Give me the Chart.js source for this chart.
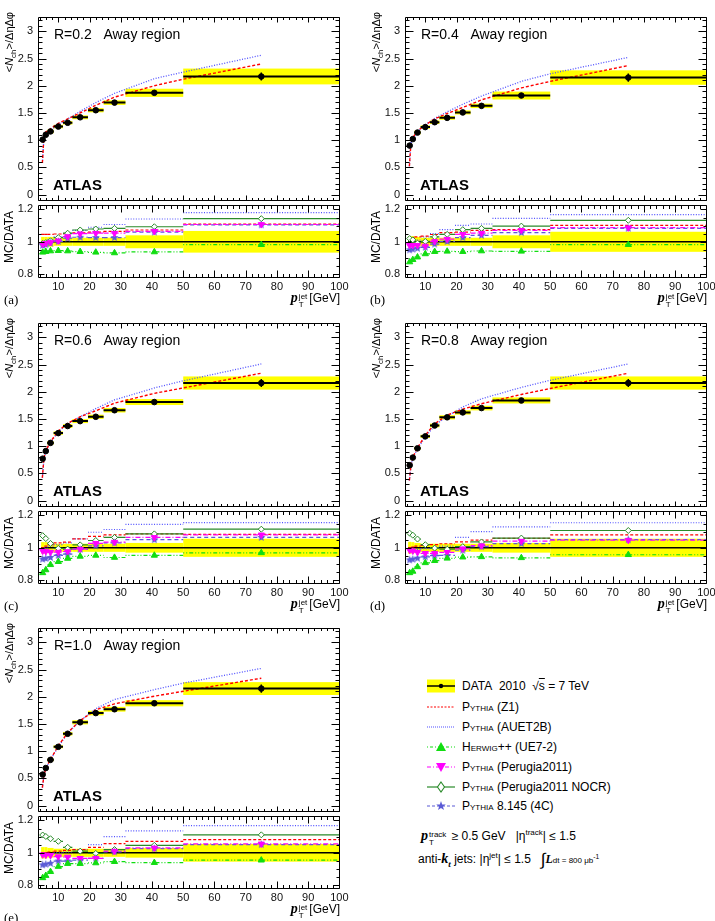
<!DOCTYPE html>
<html><head><meta charset="utf-8">
<title>Away region</title>
<script src="https://cdn.jsdelivr.net/npm/chart.js@4.4.1/dist/chart.umd.min.js"></script>
<style>
  html,body{margin:0;padding:0;background:#fff;}
  body{position:relative;width:715px;height:921px;overflow:hidden;font-family:"Liberation Sans",Arial,Helvetica,sans-serif;color:#000;}
  canvas{position:absolute;}
  .t{position:absolute;white-space:nowrap;line-height:1;}
  .rl{font-size:14px;}
  .atl{font-size:15px;font-weight:bold;}
  .yt{font-size:11px;transform:rotate(-90deg);transform-origin:left top;width:100px;text-align:right;line-height:12px;}
  .rt{font-size:12px;transform:rotate(-90deg);transform-origin:left top;width:80px;text-align:center;line-height:12px;}
  .xt{font-size:12px;width:90px;text-align:right;}
  .pp{font-family:"Liberation Serif","DejaVu Serif",serif;font-style:italic;font-weight:bold;font-size:14px;}
  .ss{display:inline-block;vertical-align:-5px;font-size:8px;line-height:8px;margin:0 2px 0 1px;text-align:left;}
  .ss span{display:block;}
  .pl{font-family:"Liberation Serif","DejaVu Serif",serif;font-size:13px;}
  .sc{font-variant:small-caps;}
  .lt{font-size:12px;}
  .small{font-size:8px;}
  svg{position:absolute;overflow:visible;}
</style>
</head>
<body>
<script>
/* ── data ── */
const BIN_EDGES = [4.5, 5.5, 6.5, 8.5, 11.5, 14.5, 19.5, 24.5, 31.5, 50, 100];
const BIN_CENTERS = [5, 6, 7.5, 10, 13, 17, 22, 28, 40.75, 75];
const CURVE_X = [4.9, 5.4, 6, 7.5, 10, 13, 17, 22, 28, 40.75, 50, 75];
const X_TICKS = [10, 20, 30, 40, 50, 60, 70, 80, 90, 100];
const Y_TICKS_MAIN = [0, 0.5, 1, 1.5, 2, 2.5, 3];
const Y_TICKS_RATIO = [0.8, 1, 1.2];
const PANEL_TAGS = ['(a)', '(b)', '(c)', '(d)', '(e)'];
const RADII = ['R=0.2', 'R=0.4', 'R=0.6', 'R=0.8', 'R=1.0'];

const DATA = [
  [1.01, 1.10, 1.16, 1.25, 1.32, 1.42, 1.55, 1.69, 1.87, 2.17],
  [0.90, 1.02, 1.14, 1.24, 1.33, 1.41, 1.51, 1.63, 1.82, 2.15],
  [0.77, 0.91, 1.06, 1.24, 1.37, 1.46, 1.54, 1.66, 1.81, 2.16],
  [0.65, 0.79, 0.96, 1.18, 1.38, 1.53, 1.62, 1.70, 1.84, 2.16],
  [0.57, 0.69, 0.84, 1.08, 1.32, 1.53, 1.70, 1.77, 1.88, 2.15]
];
const STAT_ERR = [0.008, 0.008, 0.008, 0.008, 0.01, 0.01, 0.012, 0.015, 0.02, 0.075];
const SYST = [
  [0.03, 0.03, 0.03, 0.025, 0.025, 0.025, 0.025, 0.025, 0.04, 0.067],
  [0.035, 0.035, 0.03, 0.025, 0.025, 0.025, 0.025, 0.025, 0.04, 0.062],
  [0.035, 0.035, 0.03, 0.025, 0.025, 0.025, 0.025, 0.025, 0.03, 0.056],
  [0.037, 0.035, 0.03, 0.025, 0.025, 0.025, 0.025, 0.025, 0.03, 0.056],
  [0.035, 0.035, 0.03, 0.025, 0.025, 0.025, 0.025, 0.025, 0.03, 0.055]
];
const CURVE_Z1 = [
  [0.58, 1.06, 1.15, 1.21, 1.31, 1.39, 1.50, 1.64, 1.79, 2.00, 2.12, 2.40],
  [0.52, 0.95, 1.05, 1.17, 1.28, 1.39, 1.49, 1.60, 1.74, 1.96, 2.08, 2.37],
  [0.42, 0.78, 0.92, 1.08, 1.28, 1.42, 1.54, 1.65, 1.79, 1.97, 2.07, 2.34],
  [0.37, 0.64, 0.80, 0.97, 1.20, 1.41, 1.57, 1.68, 1.78, 1.95, 2.06, 2.34],
  [0.33, 0.55, 0.69, 0.85, 1.10, 1.34, 1.56, 1.76, 1.87, 2.01, 2.10, 2.34]
];
const CURVE_AU = [
  [0.58, 1.06, 1.11, 1.18, 1.29, 1.39, 1.53, 1.69, 1.86, 2.13, 2.25, 2.56],
  [0.52, 0.95, 1.02, 1.15, 1.28, 1.40, 1.52, 1.66, 1.81, 2.08, 2.22, 2.52],
  [0.42, 0.76, 0.91, 1.07, 1.26, 1.41, 1.54, 1.69, 1.85, 2.07, 2.20, 2.51],
  [0.37, 0.63, 0.78, 0.95, 1.17, 1.38, 1.55, 1.72, 1.87, 2.08, 2.21, 2.51],
  [0.33, 0.55, 0.68, 0.84, 1.08, 1.33, 1.56, 1.78, 1.95, 2.13, 2.25, 2.52]
];
const RATIO_Z1 = [
  [1.046, 1.046, 1.046, 1.048, 1.05, 1.055, 1.06, 1.065, 1.073, 1.109],
  [1.02, 1.026, 1.03, 1.035, 1.045, 1.057, 1.06, 1.07, 1.075, 1.101],
  [1.0, 1.01, 1.02, 1.03, 1.035, 1.055, 1.07, 1.08, 1.086, 1.083],
  [1.0, 1.005, 1.01, 1.015, 1.02, 1.025, 1.036, 1.047, 1.058, 1.08],
  [1.0, 1.0, 1.005, 1.01, 1.015, 1.02, 1.034, 1.057, 1.071, 1.081]
];
const RATIO_AU = [
  [1.0, 1.005, 1.015, 1.03, 1.05, 1.07, 1.09, 1.107, 1.141, 1.18],
  [0.99, 1.0, 1.01, 1.03, 1.05, 1.075, 1.101, 1.11, 1.145, 1.168],
  [0.99, 1.0, 1.01, 1.02, 1.03, 1.055, 1.096, 1.113, 1.145, 1.156],
  [0.98, 0.985, 0.99, 0.995, 1.0, 1.01, 1.064, 1.10, 1.129, 1.155],
  [0.99, 0.99, 0.995, 1.0, 1.005, 1.02, 1.05, 1.10, 1.135, 1.168]
];
const RATIO_HW = [
  [0.935, 0.939, 0.943, 0.945, 0.943, 0.939, 0.935, 0.931, 0.937, 0.982],
  [0.875, 0.889, 0.905, 0.925, 0.939, 0.941, 0.939, 0.943, 0.941, 0.982],
  [0.845, 0.863, 0.895, 0.914, 0.934, 0.947, 0.953, 0.94, 0.953, 0.969],
  [0.845, 0.854, 0.882, 0.907, 0.92, 0.935, 0.942, 0.944, 0.938, 0.957],
  [0.845, 0.859, 0.883, 0.915, 0.933, 0.933, 0.937, 0.945, 0.939, 0.954]
];
const RATIO_P11 = [
  [0.985, 0.99, 0.996, 1.006, 1.032, 1.05, 1.053, 1.053, 1.065, 1.107],
  [0.978, 0.978, 0.978, 0.974, 1.002, 1.016, 1.046, 1.053, 1.071, 1.087],
  [0.98, 0.977, 0.973, 0.973, 0.977, 0.992, 1.027, 1.035, 1.064, 1.08],
  [0.985, 0.981, 0.972, 0.966, 0.966, 0.972, 0.994, 1.013, 1.041, 1.047],
  [0.988, 0.986, 0.984, 0.976, 0.974, 0.966, 0.966, 1.01, 1.03, 1.055]
];
const RATIO_NOCR = [
  [0.99, 0.995, 1.006, 1.026, 1.053, 1.073, 1.079, 1.083, 1.093, 1.143],
  [1.02, 1.012, 0.992, 1.002, 1.03, 1.046, 1.075, 1.083, 1.097, 1.133],
  [1.075, 1.057, 1.027, 0.996, 0.992, 1.018, 1.045, 1.064, 1.086, 1.115],
  [1.09, 1.078, 1.054, 1.019, 0.998, 0.991, 1.007, 1.036, 1.06, 1.107],
  [1.11, 1.101, 1.087, 1.071, 1.034, 1.01, 0.996, 1.02, 1.046, 1.111]
];
const RATIO_4C = [
  [0.978, 0.982, 0.992, 1.002, 1.022, 1.028, 1.026, 1.026, 1.06, 1.105],
  [0.95, 0.954, 0.96, 0.966, 0.986, 1.002, 1.026, 1.04, 1.057, 1.083],
  [0.93, 0.934, 0.94, 0.953, 0.961, 0.99, 1.012, 1.03, 1.05, 1.064],
  [0.925, 0.929, 0.936, 0.944, 0.951, 0.953, 0.985, 1.007, 1.026, 1.05],
  [0.925, 0.929, 0.935, 0.949, 0.949, 0.954, 0.966, 1.006, 1.026, 1.051]
];

/* ── layout / style ── */
const FONT = '"Liberation Sans", Arial, sans-serif';
const X_MIN = 3.5, X_MAX = 100.2;
const Y_MAIN = [-0.125, 3.27], Y_RATIO = [0.776, 1.23];
const FRAMES = [{L: 38, T: 15}, {L: 405, T: 15}, {L: 38, T: 321}, {L: 405, T: 321}, {L: 38, T: 626}];
const W = 302, HM = 188, HR = 75, AXW = 40, PAD = 12, XAX = 24;

const C = {
  yellow: '#ffff00', z1: '#ff0000', au: '#5050ff', hw: '#11dd11',
  p11: '#ff00ff', nocr: '#2a8a2a', c4: '#5b5bd6'
};

function starImage(color, r) {
  const c = document.createElement('canvas');
  const s = Math.ceil(r * 2) + 2;
  c.width = c.height = s;
  const g = c.getContext('2d');
  g.fillStyle = color;
  g.beginPath();
  for (let i = 0; i < 10; i++) {
    const a = -Math.PI / 2 + i * Math.PI / 5, rr = i % 2 ? r * 0.45 : r;
    g.lineTo(s / 2 + rr * Math.cos(a), s / 2 + rr * Math.sin(a));
  }
  g.closePath(); g.fill();
  return c;
}
const STAR = starImage(C.c4, 4.2);

function addCanvas(left, top, w, h) {
  const c = document.createElement('canvas');
  c.width = w; c.height = h;
  c.style.left = left + 'px'; c.style.top = top + 'px';
  c.style.width = w + 'px'; c.style.height = h + 'px';
  document.body.appendChild(c);
  return c;
}

function addText(html, cls, left, top, extra) {
  const d = document.createElement('div');
  d.className = 't ' + cls;
  d.style.left = left + 'px'; d.style.top = top + 'px';
  if (extra) Object.assign(d.style, extra);
  d.innerHTML = html;
  document.body.appendChild(d);
  return d;
}

// histogram-like horizontal segments, one per bin
function steps(vals) {
  const pts = [];
  vals.forEach((v, i) => {
    pts.push({x: BIN_EDGES[i], y: v}, {x: BIN_EDGES[i + 1], y: v}, {x: BIN_EDGES[i + 1], y: null});
  });
  return pts;
}
function errBars(vals, errs) {
  const pts = [];
  vals.forEach((v, i) => {
    pts.push({x: BIN_CENTERS[i], y: v - errs[i]}, {x: BIN_CENTERS[i], y: v + errs[i]}, {x: BIN_CENTERS[i], y: null});
  });
  return pts;
}
function points(vals) {
  return vals.map((v, i) => ({x: BIN_CENTERS[i], y: v}));
}

function lineDs(data, color, dash, width, order) {
  return {data, borderColor: color, borderDash: dash, borderWidth: width, pointRadius: 0,
          fill: false, tension: 0, spanGaps: false, order};
}
function markerDs(data, style, color, fillColor, radius, rotation) {
  return {data, showLine: false, pointStyle: style, pointRadius: radius, pointRotation: rotation || 0,
          pointBackgroundColor: fillColor, pointBorderColor: color, pointBorderWidth: 1, order: 0};
}

function xScale(show) {
  const s = {
    type: 'linear', min: X_MIN, max: X_MAX, display: show,
    grid: {display: false, drawTicks: false}, border: {display: false},
    ticks: {display: show, padding: 2, maxRotation: 0, autoSkip: false, color: '#111',
            font: {family: FONT, size: 11}},
    afterBuildTicks: sc => { sc.ticks = X_TICKS.map(v => ({value: v})); }
  };
  if (show) s.afterFit = sc => { sc.height = XAX; };
  return s;
}
function yScale(range, ticks) {
  return {
    type: 'linear', min: range[0], max: range[1],
    grid: {display: false, drawTicks: false}, border: {display: false},
    ticks: {padding: 5, color: '#111', font: {family: FONT, size: 11}, callback: v => String(v)},
    afterBuildTicks: sc => { sc.ticks = ticks.map(v => ({value: v})); },
    afterFit: sc => { sc.width = AXW; }
  };
}

// yellow systematic boxes drawn through the chart's scales
function bandPlugin(lo, hi) {
  return {
    id: 'band',
    beforeDatasetsDraw(chart) {
      const {ctx, scales: {x, y}, chartArea: a} = chart;
      ctx.save();
      ctx.beginPath(); ctx.rect(a.left, a.top, a.right - a.left, a.bottom - a.top); ctx.clip();
      ctx.fillStyle = C.yellow;
      lo.forEach((l, i) => {
        const x0 = x.getPixelForValue(BIN_EDGES[i]), x1 = x.getPixelForValue(BIN_EDGES[i + 1]);
        const y0 = y.getPixelForValue(hi[i]), y1 = y.getPixelForValue(l);
        ctx.fillRect(x0, y0, x1 - x0, y1 - y0);
      });
      ctx.restore();
    }
  };
}

// ROOT-like frame with inward ticks on all four sides
function framePlugin(xMinor, xMajor, yMinor, yMajor, lenX, lenY) {
  return {
    id: 'frame',
    afterDatasetsDraw(chart) {
      const {ctx, chartArea: a, scales: {x, y}} = chart;
      const l = Math.round(a.left) + 0.5, r = Math.round(a.right) - 0.5;
      const t = Math.round(a.top) + 0.5, b = Math.round(a.bottom) - 0.5;
      ctx.save();
      ctx.strokeStyle = '#000'; ctx.lineWidth = 1;
      ctx.beginPath();
      ctx.rect(l, t, r - l, b - t);
      for (let k = Math.ceil(x.min / xMinor); k * xMinor <= x.max + 1e-9; k++) {
        const v = k * xMinor;
        const major = Math.abs(v / xMajor - Math.round(v / xMajor)) < 1e-6;
        const len = major ? lenX : lenX / 2;
        const px = Math.round(x.getPixelForValue(v)) + 0.5;
        ctx.moveTo(px, b); ctx.lineTo(px, b - len);
        ctx.moveTo(px, t); ctx.lineTo(px, t + len);
      }
      for (let k = Math.ceil(y.min / yMinor - 1e-9); k * yMinor <= y.max + 1e-9; k++) {
        const v = k * yMinor;
        const major = Math.abs(v / yMajor - Math.round(v / yMajor)) < 1e-6;
        const len = major ? lenY : lenY / 2;
        const py = Math.round(y.getPixelForValue(v)) + 0.5;
        ctx.moveTo(l, py); ctx.lineTo(l + len, py);
        ctx.moveTo(r, py); ctx.lineTo(r - len, py);
      }
      ctx.stroke();
      ctx.restore();
    }
  };
}

const BASE = {
  type: 'line',
  options: {
    responsive: false, animation: false, devicePixelRatio: 1, events: [],
    plugins: {legend: {display: false}, tooltip: {enabled: false}}
  }
};

function drawPanel(p) {
  const {L, T} = FRAMES[p];
  const M = T + HM, B = M + HR;
  const data = DATA[p], syst = SYST[p];

  /* main pad */
  const cm = addCanvas(L - AXW, T - 10, AXW + W + PAD, HM + 20);
  new Chart(cm, {
    type: 'line',
    data: {
      datasets: [
        lineDs(CURVE_X.map((x, i) => ({x, y: CURVE_AU[p][i]})), C.au, [1, 1.6], 1.3, 4),
        lineDs(CURVE_X.map((x, i) => ({x, y: CURVE_Z1[p][i]})), C.z1, [3, 2], 1.4, 3),
        lineDs(steps(data), '#000', [], 2, 2),
        lineDs(errBars(data, STAT_ERR), '#000', [], 1.5, 1),
        markerDs(points(data), 'circle', '#000', '#000', 2.8)
      ]
    },
    options: Object.assign({}, BASE.options, {
      layout: {padding: {top: 10, right: PAD, bottom: 10, left: 0}},
      scales: {x: xScale(false), y: yScale(Y_MAIN, Y_TICKS_MAIN)}
    }),
    plugins: [
      bandPlugin(data.map((v, i) => v * (1 - syst[i])), data.map((v, i) => v * (1 + syst[i]))),
      framePlugin(2, 10, 0.1, 0.5, 5, 8)
    ]
  });

  /* ratio pad */
  const cr = addCanvas(L - AXW, M - 10, AXW + W + PAD, HR + 10 + XAX);
  new Chart(cr, {
    type: 'line',
    data: {
      datasets: [
        lineDs([{x: BIN_EDGES[0], y: 1}, {x: BIN_EDGES[BIN_EDGES.length - 1], y: 1}], '#000', [], 1.5, 9),
        lineDs(steps(RATIO_AU[p]), C.au, [1, 1.6], 1.2, 8),
        lineDs(steps(RATIO_Z1[p]), C.z1, [3, 2], 1.2, 7),
        lineDs(steps(RATIO_HW[p]), C.hw, [1, 2, 1, 2, 4, 2], 1.2, 6),
        lineDs(steps(RATIO_4C[p]), C.c4, [4, 3], 1.2, 5),
        lineDs(steps(RATIO_P11[p]), C.p11, [5, 2, 1, 2], 1.2, 4),
        lineDs(steps(RATIO_NOCR[p]), C.nocr, [], 1.2, 3),
        markerDs(points(RATIO_HW[p]), 'triangle', C.hw, C.hw, 3.6),
        markerDs(points(RATIO_P11[p]), 'triangle', C.p11, C.p11, 3.6, 180),
        markerDs(points(RATIO_4C[p]), STAR, C.c4, C.c4, 4),
        markerDs(points(RATIO_NOCR[p]), 'rectRot', C.nocr, '#fff', 3)
      ]
    },
    options: Object.assign({}, BASE.options, {
      layout: {padding: {top: 10, right: PAD, bottom: 0, left: 0}},
      scales: {x: xScale(true), y: yScale(Y_RATIO, Y_TICKS_RATIO)}
    }),
    plugins: [
      bandPlugin(syst.map(s => 1 - s), syst.map(s => 1 + s)),
      framePlugin(2, 10, 0.05, 0.2, 7, 6)
    ]
  });

  /* texts */
  addText(RADII[p] + '&nbsp;&nbsp;&nbsp;Away region', 'rl', L + 16, T + 12);
  addText('ATLAS', 'atl', L + 15, T + 162);
  addText('&lt;<i>N</i><sub style="font-size:8px">ch</sub>&gt;/ΔηΔφ', 'yt', L - 35, T - 3 + 100);
  addText('MC/DATA', 'rt', L - 35, M + 34 + 40);
  addText('<span class="pp">p</span><span class="ss"><span>jet</span><span>T</span></span>[GeV]', 'xt', L + W - 90, B + 13);
  const tagLeft = L < 200 ? 4 : 370;
  addText(PANEL_TAGS[p], 'pl', tagLeft, B + (p === 4 ? 22 : 15));
}

for (let p = 0; p < 5; p++) drawPanel(p);

/* ── legend ── */
const LEG_X = 427, TXT_X = 462;
const LEG_ROWS = [686, 707, 727, 747, 767, 787, 806];
const LEG_SAMPLES = [
  '<rect x="0" y="-6.5" width="28" height="13" fill="#ffff00"/><line x1="0" y1="0" x2="28" y2="0" stroke="#000" stroke-width="1.5"/><circle cx="14" cy="0" r="2.2" fill="#000"/>',
  '<line x1="0" y1="0" x2="28" y2="0" stroke="' + C.z1 + '" stroke-width="1.2" stroke-dasharray="2,1.5"/>',
  '<line x1="0" y1="0" x2="28" y2="0" stroke="' + C.au + '" stroke-width="1.2" stroke-dasharray="1,1"/>',
  '<line x1="0" y1="0" x2="28" y2="0" stroke="' + C.hw + '" stroke-width="1.2" stroke-dasharray="1,2,3,2"/><polygon points="14,-5 19,4 9,4" fill="' + C.hw + '"/>',
  '<line x1="0" y1="0" x2="28" y2="0" stroke="' + C.p11 + '" stroke-width="1.2" stroke-dasharray="4,2,1,2"/><polygon points="14,5 19,-4 9,-4" fill="' + C.p11 + '"/>',
  '<line x1="0" y1="0" x2="28" y2="0" stroke="' + C.nocr + '" stroke-width="1.2"/><polygon points="14,-5 17.5,0 14,5 10.5,0" fill="#fff" stroke="' + C.nocr + '" stroke-width="1.1"/>',
  '<line x1="0" y1="0" x2="28" y2="0" stroke="' + C.c4 + '" stroke-width="1.2" stroke-dasharray="3,2"/><polygon points="14,-5 15.2,-1.6 18.8,-1.6 15.9,0.6 17,4 14,1.9 11,4 12.1,0.6 9.2,-1.6 12.8,-1.6" fill="' + C.c4 + '"/>'
];
const LEG_TEXT = [
  'DATA&nbsp; 2010&nbsp; √<span style="text-decoration:overline">s</span> = 7 TeV',
  '<span class="sc">Pythia</span> (Z1)',
  '<span class="sc">Pythia</span> (AUET2B)',
  '<span class="sc">Herwig</span>++ (UE7-2)',
  '<span class="sc">Pythia</span> (Perugia2011)',
  '<span class="sc">Pythia</span> (Perugia2011 NOCR)',
  '<span class="sc">Pythia</span> 8.145 (4C)'
];
LEG_ROWS.forEach((y, i) => {
  const s = document.createElementNS('http://www.w3.org/2000/svg', 'svg');
  s.setAttribute('width', '28'); s.setAttribute('height', '1');
  s.style.left = LEG_X + 'px'; s.style.top = y + 'px';
  s.innerHTML = LEG_SAMPLES[i];
  document.body.appendChild(s);
  addText(LEG_TEXT[i], 'lt', TXT_X, y - 6);
});
addText('<span class="pp">p</span><span class="ss"><span>track</span><span>T</span></span> ≥ 0.5 GeV&nbsp;&nbsp; |η<sup style="font-size:8px">track</sup>| ≤ 1.5', 'lt', 421, 829);
addText('anti-<span class="pp">k<sub style="font-size:9px">t</sub></span> jets: |η<sup style="font-size:8px">jet</sup>| ≤ 1.5&nbsp;&nbsp; <span style="font-size:17px;vertical-align:-2px">∫</span><span class="pp" style="font-size:12px">L</span><span class="small">dt = 800 μb<sup>-1</sup></span>', 'lt', 418, 851);
</script>
</body></html>
